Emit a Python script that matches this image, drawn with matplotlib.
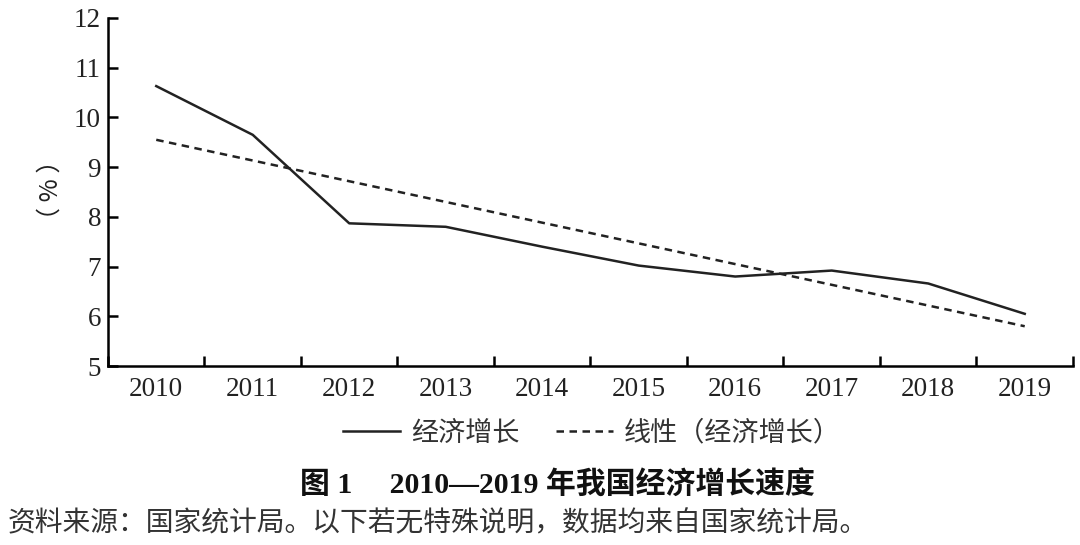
import matplotlib
matplotlib.use('Agg')
from matplotlib import pyplot as plt

years = ['2010', '2011', '2012', '2013', '2014', '2015', '2016', '2017', '2018', '2019']
growth = [10.63, 9.65, 7.87, 7.80, 7.40, 7.02, 6.80, 6.92, 6.66, 6.05]
trend_x = [0, 9]
trend_y = [9.55, 5.80]

serif = ['Liberation Serif', 'Noto Sans CJK SC', 'DejaVu Sans']
cjk = ['Noto Sans CJK SC', 'DejaVu Sans']

fig = plt.figure(figsize=(10.8, 5.45), dpi=100)
ax = fig.add_axes([0.1, 0.3284, 0.8935, 0.6386])

x = list(range(len(years)))
ax.plot(x, growth, color='#222222', lw=1.8, label='经济增长')
ax.plot(trend_x, trend_y, color='#222222', lw=1.8, dashes=(3, 2.2), label='线性（经济增长）')

ax.set_xlim(-0.5, len(years) - 0.5)
ax.set_ylim(5, 12)
ax.set_yticks(range(5, 13))
ax.set_xticks([i - 0.5 for i in range(len(years) + 1)])
ax.set_xticklabels([])
ax.set_xticks(x, minor=True)
ax.set_xticklabels(years, minor=True)
ax.tick_params(axis='x', which='minor', length=0, pad=8)
ax.tick_params(axis='x', which='major', direction='in', length=7, width=1.8)
ax.tick_params(axis='y', direction='in', length=7, width=1.8, pad=5)
for lab in ax.get_xticklabels(minor=True) + ax.get_yticklabels():
    lab.set_family(serif)
    lab.set_fontsize(19.5)
    lab.set_color('#222222')

ax.spines['top'].set_visible(False)
ax.spines['right'].set_visible(False)
ax.spines['left'].set_linewidth(1.8)
ax.spines['bottom'].set_linewidth(1.8)

fig.text(0.047, 0.652, '（ % ）', rotation=90, ha='center', va='center',
         family=cjk, fontsize=18, color='#222222')

leg = fig.legend(loc='center', bbox_to_anchor=(0.548, 0.205), ncol=2, frameon=False,
                 handlelength=2.1, columnspacing=1.35, handletextpad=0.4,
                 prop={'family': cjk, 'size': 19.5})
for t in leg.get_texts():
    t.set_color('#333333')

fig.text(0.516, 0.11, '图 1\u3000 2010—2019 年我国经济增长速度', ha='center', va='center',
         family=serif, fontsize=21.5, fontweight='bold', color='#111111')
fig.text(0.007, 0.04, '资料来源：国家统计局。以下若无特殊说明，数据均来自国家统计局。',
         ha='left', va='center', family=cjk, fontsize=20, color='#333333')

fig.savefig('out.png', dpi=100)
